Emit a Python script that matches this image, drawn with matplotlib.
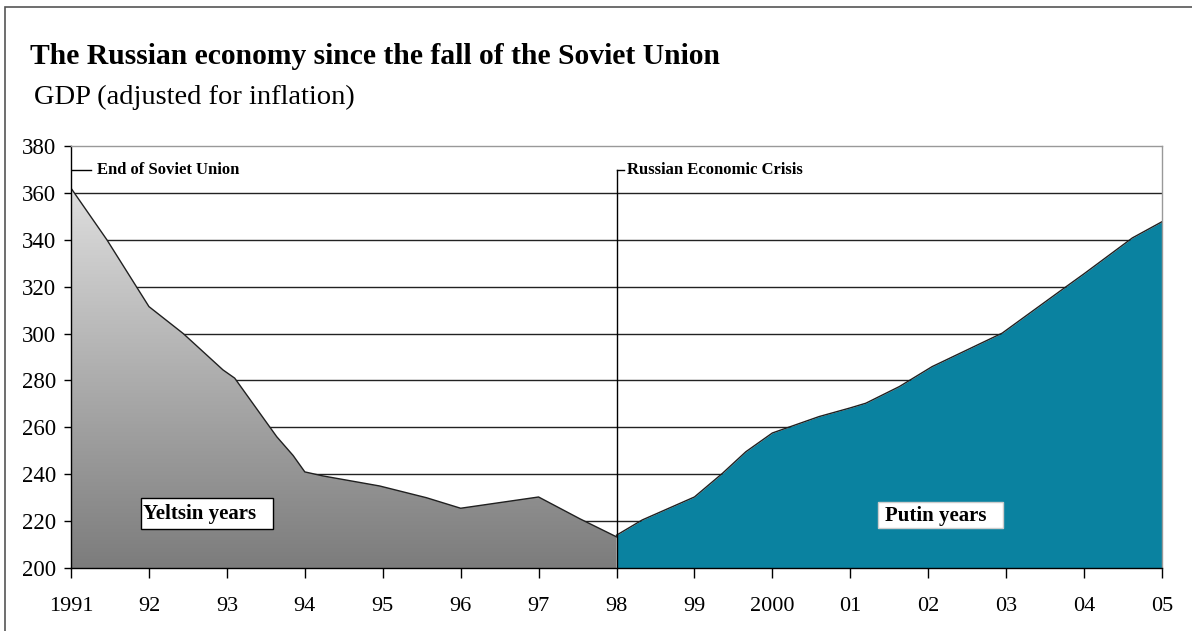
import matplotlib.pyplot as plt
import numpy as np
from matplotlib.colors import LinearSegmentedColormap
from matplotlib.patches import Rectangle

# Dati (anno frazionario, PIL reale indicizzato)
yeltsin_x = [1991.0, 1991.46, 1992.0, 1992.44, 1992.95, 1993.1, 1993.64, 1993.85, 1994.0,
             1994.23, 1994.96, 1995.56, 1996.0, 1997.0, 1997.53, 1998.0]
yeltsin_y = [362, 340, 311.5, 300, 284.5, 281, 256, 248, 241,
             239.3, 235, 230, 225.5, 230.3, 221, 213.3]

putin_x = [1998.0, 1998.33, 1999.0, 1999.36, 1999.66, 2000.0, 2000.6, 2001.0, 2001.2,
           2001.63, 2002.05, 2002.95, 2003.77, 2004.0, 2004.62, 2005.0]
putin_y = [214, 220.5, 230.3, 240.4, 249.6, 257.6, 264.6, 268.3, 270.3,
           277.4, 285.9, 300.2, 320, 325.5, 340.8, 347.7]

tick_years = list(range(1991, 2006))
tick_labels = ['1991', '92', '93', '94', '95', '96', '97', '98', '99', '2000',
               '01', '02', '03', '04', '05']

plt.rcParams['font.family'] = ['Liberation Serif', 'DejaVu Serif']

fig = plt.figure(figsize=(11.92, 6.31), dpi=100)
ax = fig.add_axes([0.0596, 0.0998, 0.9152, 0.6688])

ax.set_xlim(1991, 2005)
ax.set_ylim(200, 380)

# griglia
for v in range(220, 380, 20):
    ax.axhline(v, color='#222222', lw=1.0, zorder=1)

# area Eltsin con gradiente grigio
poly = ax.fill_between(yeltsin_x, 200, yeltsin_y, facecolor='none', edgecolor='none', zorder=2)
cmap = LinearSegmentedColormap.from_list('grigio', ['#7c7c7c', '#dedede'])
grad = np.linspace(0, 1, 256).reshape(-1, 1)
im = ax.imshow(grad, extent=[1991, 1998, 200, 362], origin='lower', aspect='auto',
               cmap=cmap, zorder=2)
im.set_clip_path(poly.get_paths()[0], transform=ax.transData)
ax.plot(yeltsin_x, yeltsin_y, color='#202020', lw=1.0, zorder=3)

# area Putin
ax.fill_between(putin_x, 200, putin_y, color='#0a82a0', lw=0, zorder=2)
ax.plot(putin_x, putin_y, color='#202020', lw=1.0, zorder=3)

# linea crisi 1998
ax.plot([1998, 1998], [200, 369.8], color='black', lw=1.0, zorder=4)
ax.plot([1998, 1998.1], [369.8, 369.8], color='black', lw=1.0, zorder=4)
ax.text(1998.13, 369.8, 'Russian Economic Crisis', fontsize=12, fontweight='bold',
        va='center', ha='left', zorder=5)

ax.plot([1991, 1991.25], [369.8, 369.8], color='black', lw=1.0, zorder=4)
ax.text(1991.33, 369.8, 'End of Soviet Union', fontsize=12, fontweight='bold',
        va='center', ha='left', zorder=5)

# etichette nei riquadri
ax.add_patch(Rectangle((1991.9, 216.7), 1.69, 13.2, fc='white', ec='black', lw=1, zorder=5))
ax.text(1991.925, 222.9, 'Yeltsin years', fontsize=15, fontweight='bold',
        ha='left', va='center', zorder=6)
ax.add_patch(Rectangle((2001.35, 217.1), 1.61, 11.1, fc='white', ec='#cccccc', lw=1, zorder=5))
ax.text(2001.44, 222.4, 'Putin years', fontsize=15, fontweight='bold',
        ha='left', va='center', zorder=6)

# assi
ax.set_yticks(range(200, 381, 20))
ax.set_xticks(tick_years)
ax.set_xticklabels(tick_labels)
ax.tick_params(axis='y', direction='out', length=5, width=1, labelsize=16.5, pad=6)
ax.tick_params(axis='x', direction='out', length=7, width=1, labelsize=16, pad=14)
ax.spines['top'].set_color('#999999')
ax.spines['right'].set_color('#999999')
ax.spines['left'].set_color('black')
ax.spines['bottom'].set_color('black')
for s in ax.spines.values():
    s.set_linewidth(1.0)
    s.set_zorder(6)

# titoli
fig.text(30 / 1192, 1 - 56 / 631, 'The Russian economy since the fall of the Soviet Union',
         fontsize=21.3, fontweight='bold', ha='left', va='center')
fig.text(34 / 1192, 1 - 97 / 631, 'GDP (adjusted for inflation)',
         fontsize=20.5, ha='left', va='center')

# cornice esterna
fig.patches.append(Rectangle((5 / 1192, -0.01), 1.2, 1 - 7 / 631 + 0.01, transform=fig.transFigure,
                             fill=False, ec='#555555', lw=1.2))

plt.savefig('out.png', dpi=100)
